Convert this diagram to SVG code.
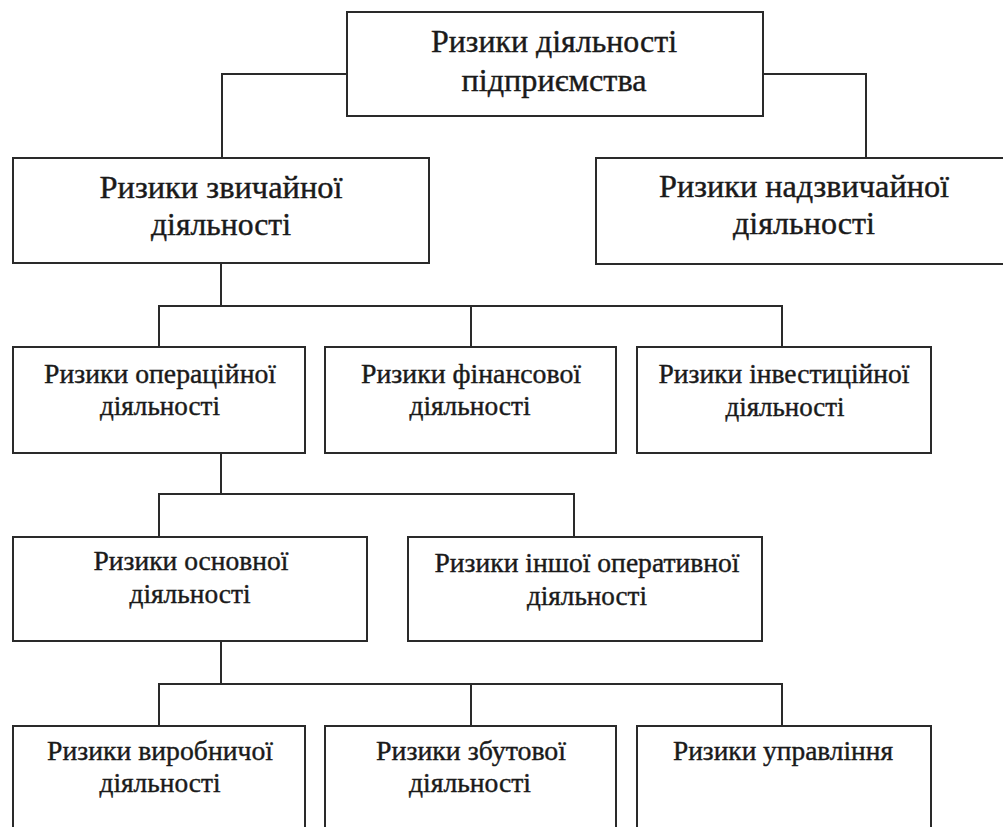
<svg xmlns="http://www.w3.org/2000/svg" width="1003" height="827" viewBox="0 0 1003 827">
<style>
.box{fill:#fff;stroke:#2a2a2a;stroke-width:2}
.con{fill:none;stroke:#2a2a2a;stroke-width:2}
text{font-family:"Liberation Serif","DejaVu Serif",serif;fill:#1a1a1a;stroke:#1a1a1a;stroke-width:0.4;text-anchor:middle}
.l{font-size:31px}
.s{font-size:27px}
</style>
<rect width="1003" height="827" fill="#fff"/>
<g id="connectors">
<path class="con" d="M347,74 H222 V158"/>
<path class="con" d="M763,74 H866 V158"/>
<path class="con" d="M221,263 V306"/>
<path class="con" d="M159,347 V306 H782 V347"/>
<path class="con" d="M471,306 V347"/>
<path class="con" d="M221,453 V494"/>
<path class="con" d="M159,537 V494 H574 V537"/>
<path class="con" d="M221,641 V684"/>
<path class="con" d="M159,726 V684 H782 V726"/>
<path class="con" d="M471,684 V726"/>
</g>
<g id="n_root">
<rect class="box" x="347" y="12" width="416" height="104"/>
<text class="l" x="554" y="52" textLength="246" lengthAdjust="spacingAndGlyphs">Ризики діяльності</text>
<text class="l" x="554" y="91" textLength="185" lengthAdjust="spacingAndGlyphs">підприємства</text>
</g>
<g id="n_ordinary">
<rect class="box" x="13" y="158" width="416" height="105"/>
<text class="l" x="221" y="198" textLength="243" lengthAdjust="spacingAndGlyphs">Ризики звичайної</text>
<text class="l" x="221" y="235" textLength="140" lengthAdjust="spacingAndGlyphs">діяльності</text>
</g>
<g id="n_extraordinary">
<rect class="box" x="596" y="158" width="420" height="106"/>
<text class="l" x="804" y="197" textLength="290" lengthAdjust="spacingAndGlyphs">Ризики надзвичайної</text>
<text class="l" x="804" y="234" textLength="142" lengthAdjust="spacingAndGlyphs">діяльності</text>
</g>
<g id="n_operational">
<rect class="box" x="13" y="347" width="292" height="106"/>
<text class="s" x="160" y="383" textLength="232" lengthAdjust="spacingAndGlyphs">Ризики операційної</text>
<text class="s" x="160" y="415" textLength="120" lengthAdjust="spacingAndGlyphs">діяльності</text>
</g>
<g id="n_financial">
<rect class="box" x="325" y="347" width="291" height="106"/>
<text class="s" x="471" y="383" textLength="220" lengthAdjust="spacingAndGlyphs">Ризики фінансової</text>
<text class="s" x="470" y="415" textLength="121" lengthAdjust="spacingAndGlyphs">діяльності</text>
</g>
<g id="n_investment">
<rect class="box" x="637" y="347" width="294" height="106"/>
<text class="s" x="784" y="383" textLength="251" lengthAdjust="spacingAndGlyphs">Ризики інвестиційної</text>
<text class="s" x="785" y="416" textLength="119" lengthAdjust="spacingAndGlyphs">діяльності</text>
</g>
<g id="n_main">
<rect class="box" x="13" y="537" width="354" height="104"/>
<text class="s" x="191" y="570" textLength="195" lengthAdjust="spacingAndGlyphs">Ризики основної</text>
<text class="s" x="190" y="603" textLength="121" lengthAdjust="spacingAndGlyphs">діяльності</text>
</g>
<g id="n_other">
<rect class="box" x="408" y="537" width="354" height="104"/>
<text class="s" x="587" y="572" textLength="305" lengthAdjust="spacingAndGlyphs">Ризики іншої оперативної</text>
<text class="s" x="587" y="605" textLength="120" lengthAdjust="spacingAndGlyphs">діяльності</text>
</g>
<g id="n_production">
<rect class="box" x="13" y="726" width="292" height="130"/>
<text class="s" x="160" y="760" textLength="226" lengthAdjust="spacingAndGlyphs">Ризики виробничої</text>
<text class="s" x="160" y="792" textLength="121" lengthAdjust="spacingAndGlyphs">діяльності</text>
</g>
<g id="n_sales">
<rect class="box" x="325" y="726" width="291" height="130"/>
<text class="s" x="471" y="760" textLength="190" lengthAdjust="spacingAndGlyphs">Ризики збутової</text>
<text class="s" x="470" y="792" textLength="122" lengthAdjust="spacingAndGlyphs">діяльності</text>
</g>
<g id="n_management">
<rect class="box" x="637" y="726" width="294" height="130"/>
<text class="s" x="783" y="760" textLength="220" lengthAdjust="spacingAndGlyphs">Ризики управління</text>
</g>
</svg>
